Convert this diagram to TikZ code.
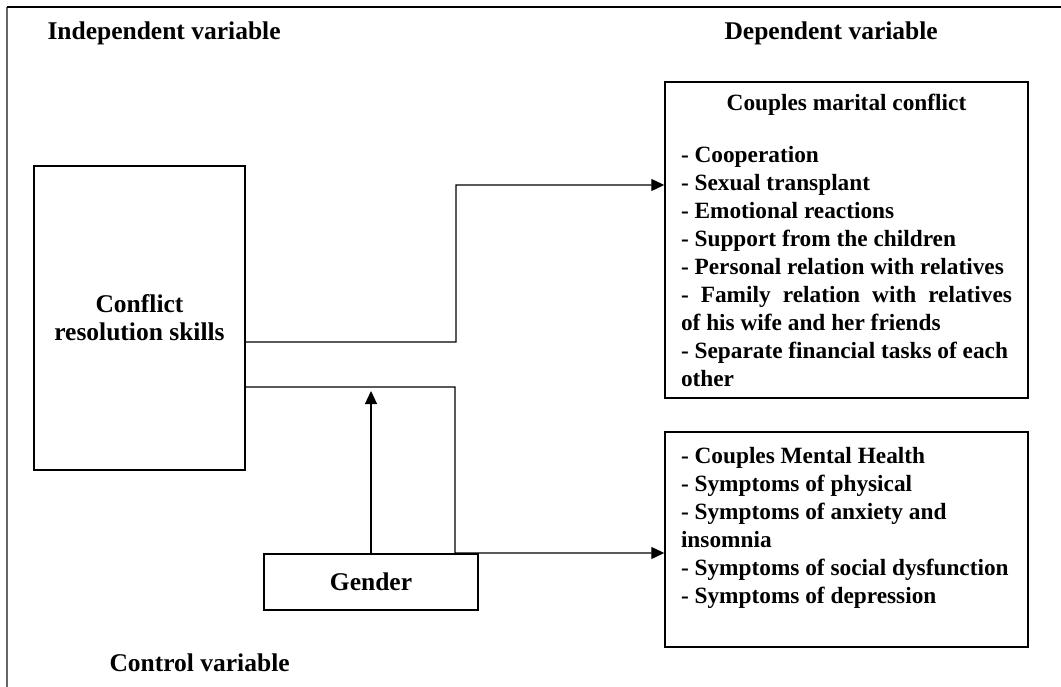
\documentclass[tikz,border=0pt]{standalone}
\usepackage{fontspec}
\setmainfont{Liberation Serif}
\usetikzlibrary{arrows.meta}

\begin{document}
\begin{tikzpicture}[x=1bp, y=-1bp,
    every node/.style={font=\fontsize{25.6}{28.1}\selectfont\bfseries},
    varbox/.style={draw, line width=1.4bp, inner sep=0pt},
    listbox/.style={varbox, minimum width=363bp, align=left,
        font=\fontsize{23.4}{28.1}\selectfont\bfseries},
    conn/.style={line width=1.2bp, -{Triangle[length=13bp,width=12bp]}}]

        \useasboundingbox (0,0) rectangle (1061,687);

        % outer frame
        \draw[gray!80!black, line width=2bp] (7,687) -- (7,7);
        \draw[line width=1.2bp] (7,7) -- (1061,7);

        % headings
        \node[anchor=west] (indep) at (44,33) {Independent variable};
        \node[anchor=west] (dep) at (721,33) {Dependent variable};
        \node[anchor=west] (ctrl) at (106,663) {Control variable};

        % boxes
        \node[varbox, minimum width=211bp, minimum height=304bp, align=center] (skills) at (139.5,318) {Conflict\\resolution skills};

        \node[varbox, minimum width=214bp, minimum height=56bp] (gender) at (371,582) {Gender};

        \node[listbox, minimum height=316bp] (marital) at (846.5,240)
            {\makebox[331bp]{Couples marital conflict}\\[24bp]
             - Cooperation\\
             - Sexual transplant\\
             - Emotional reactions\\
             - Support from the children\\
             - Personal relation with relatives\\
             \makebox[331bp][s]{- Family relation with relatives}\\
             of his wife and her friends\\
             - Separate financial tasks of each\\
             other};

        \node[listbox, minimum height=215bp] (health) at (846.5,539.5)
            {\makebox[331bp][l]{- Couples Mental Health}\\
             - Symptoms of physical\\
             - Symptoms of anxiety and\\
             insomnia\\
             - Symptoms of social dysfunction\\
             - Symptoms of depression\\
             \mbox{}};

        \coordinate (tip) at (371,391);

        % connectors
        \draw[conn] ([yshift=-24bp]skills.east) -- (456,342) |- ([yshift=55bp]marital.west);
        \draw[conn] ([yshift=-69bp]skills.east) -- (455,387) |- ([yshift=-13.5bp]health.west);
        \draw[conn] (gender.north) -- (tip);

\end{tikzpicture}
\end{document}
